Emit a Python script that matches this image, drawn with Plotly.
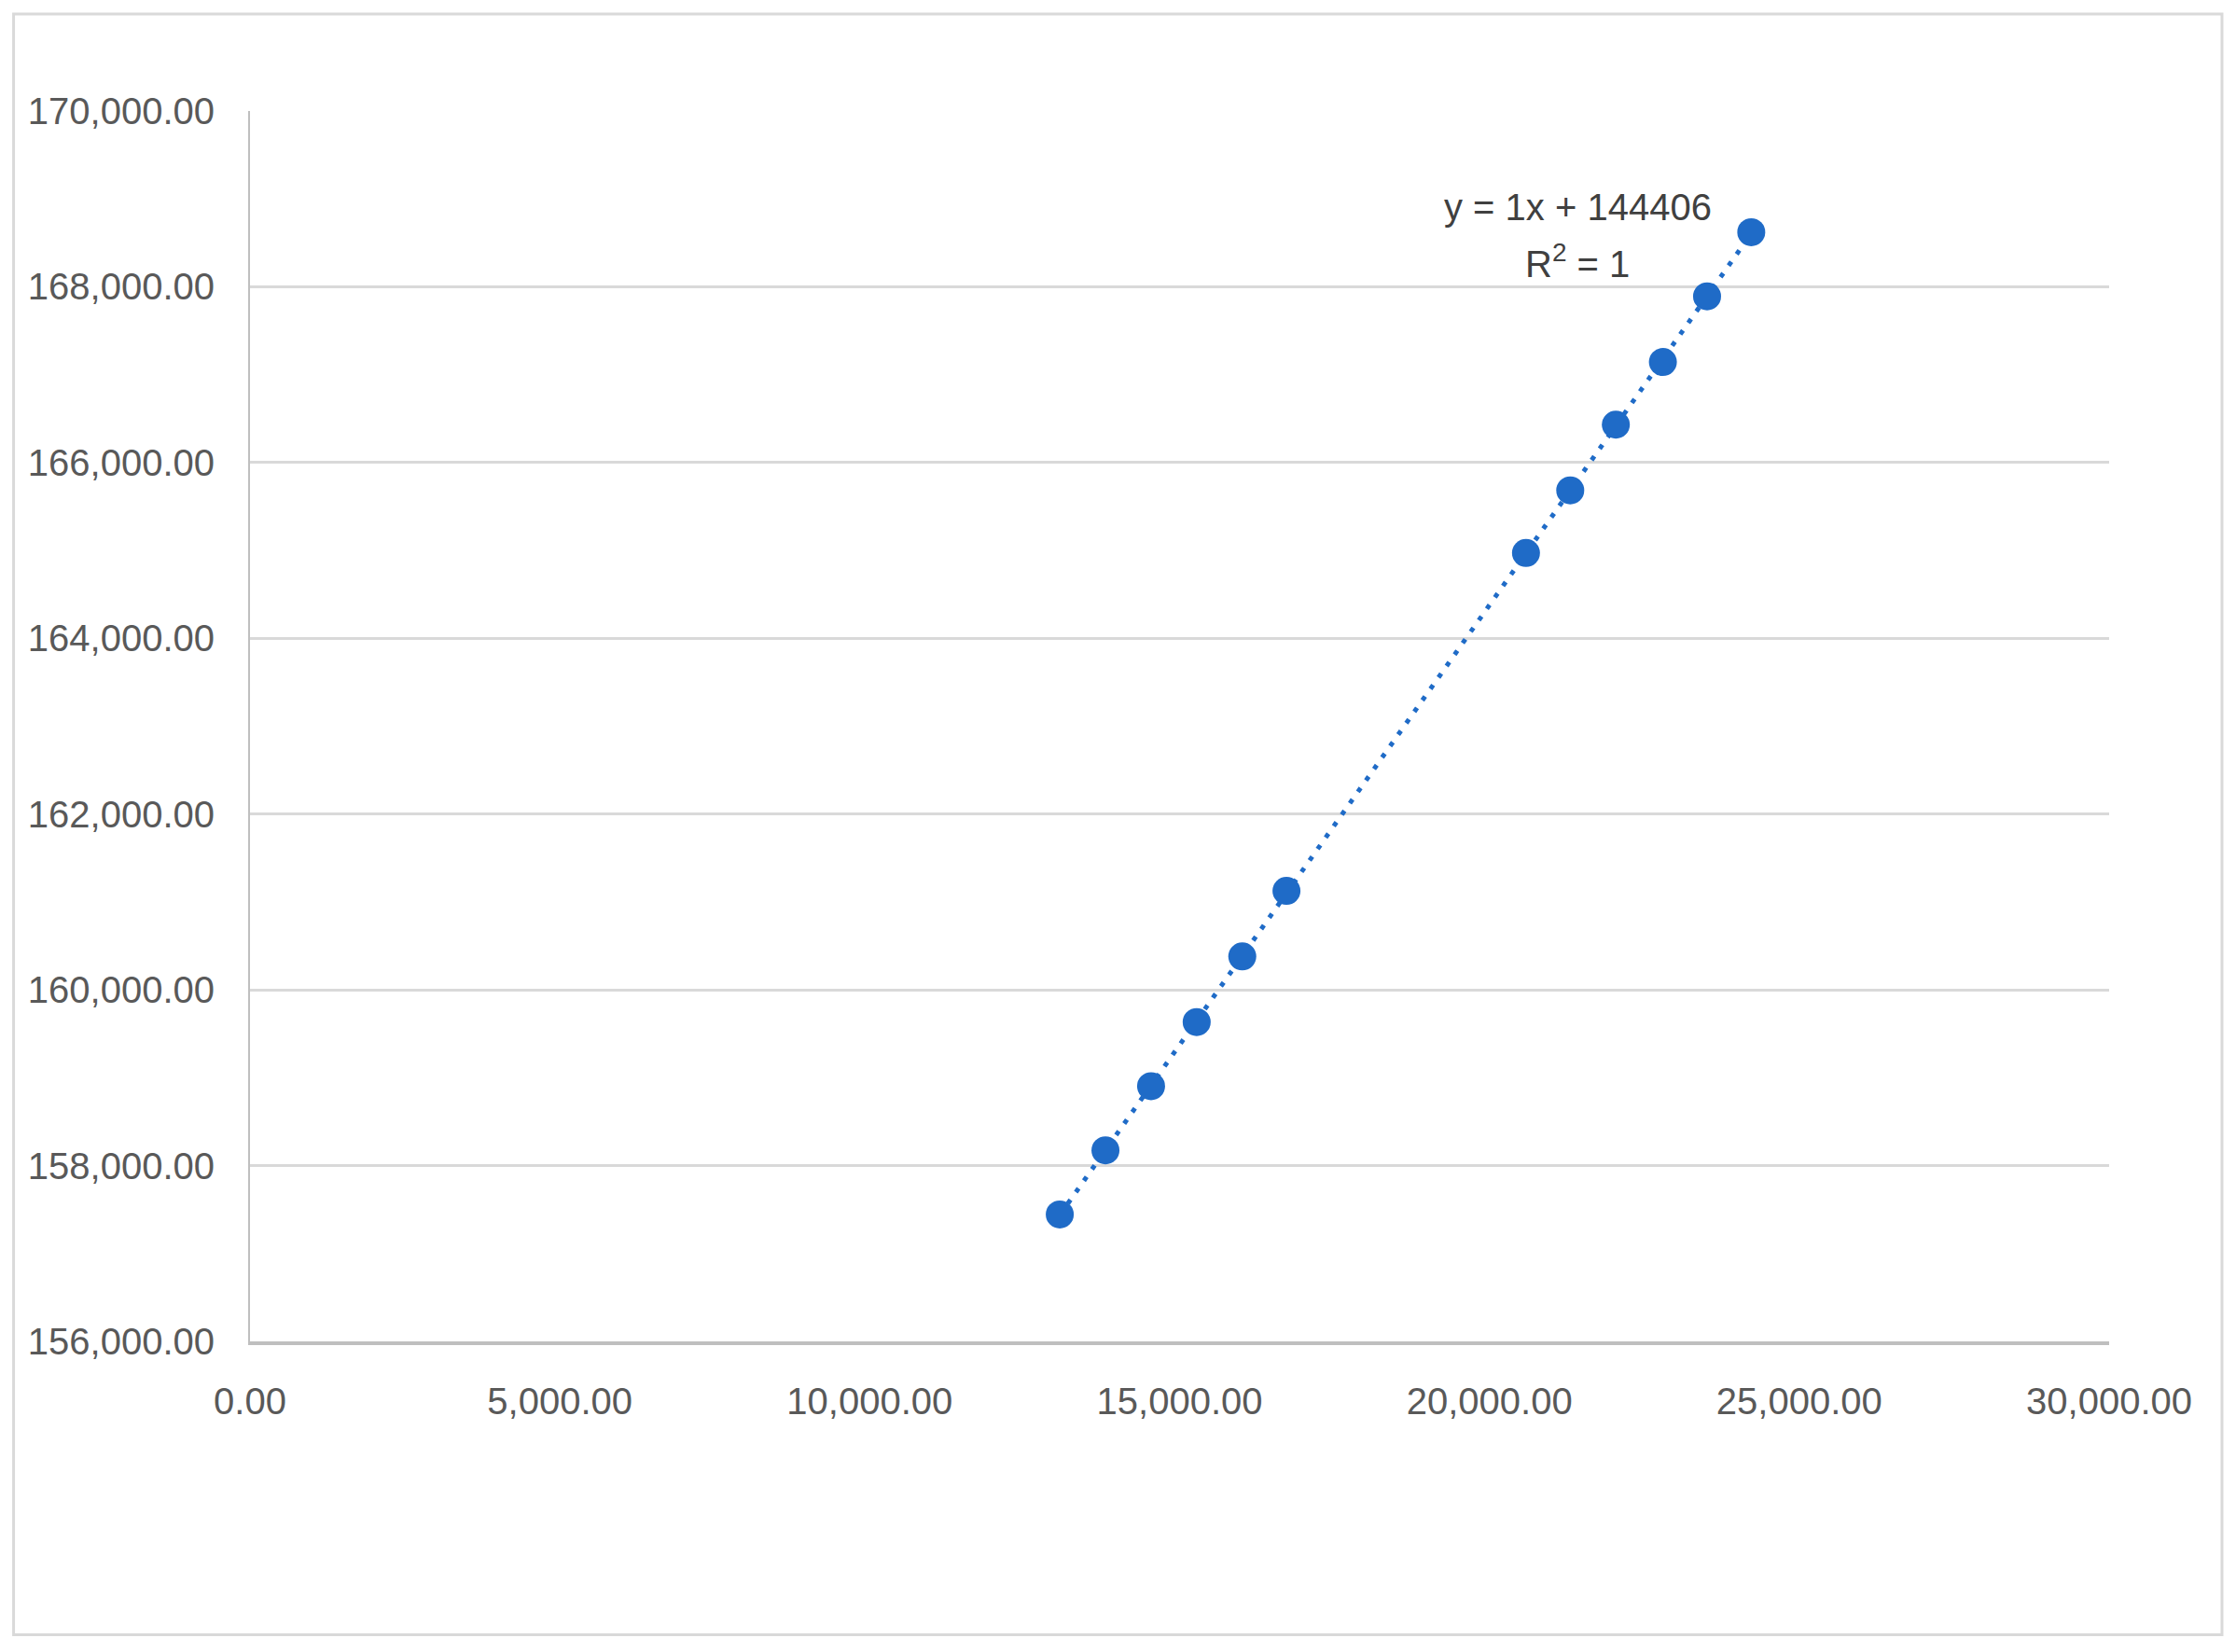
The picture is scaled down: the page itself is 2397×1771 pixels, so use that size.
import numpy as np
import plotly.graph_objects as go

# Data
x_vals = [13067, 13804, 14540, 15276, 16012, 16725, 20590, 21304, 22040, 22799, 23512, 24225]
y_vals = [157444, 158174, 158904, 159634, 160380, 161126, 164971, 165684, 166431, 167144, 167891, 168621]

x_ticks = [0, 5000, 10000, 15000, 20000, 25000, 30000]
y_ticks = [156000, 158000, 160000, 162000, 164000, 166000, 168000, 170000]

eq_text = "y = 1x + 144406"
r2_text = "R<sup>2</sup> = 1"

W, H = 2397, 1771
OFF = 8  # page body margin
L, R, T, B = 267.5 - OFF, 2261 - OFF, 119 - OFF, 1438.5 - OFF

blue = "#1f6bc7"
grid = "#d9d9d9"
txt = "#595959"
font = "Liberation Sans, Arial, sans-serif"

# linear trendline from data
coef = np.polyfit(x_vals, y_vals, 1)
tx = np.array([min(x_vals), max(x_vals)])
ty = np.polyval(coef, tx)

fig = go.Figure()
fig.add_trace(go.Scatter(x=tx, y=ty, mode="lines",
                         line=dict(color=blue, width=5, dash="5px,10px"),
                         hoverinfo="skip", showlegend=False))
fig.add_trace(go.Scatter(x=x_vals, y=y_vals, mode="markers",
                         marker=dict(color=blue, size=30),
                         showlegend=False))

pw = R - L
ph = B - T
def px(p):
    return (p - OFF - L) / pw
def py(p):
    return (B - (p - OFF)) / ph

fig.update_layout(
    width=W, height=H,
    margin=dict(l=L, r=W - R, t=T, b=H - B, pad=0),
    paper_bgcolor="white", plot_bgcolor="white",
    font=dict(family=font, size=40, color=txt),
    xaxis=dict(range=[0, 30000], tickvals=x_ticks, tickformat=",.2f",
               showgrid=False, zeroline=False,
               showline=True, linecolor="#bfbfbf", linewidth=4,
               ticks="outside", ticklen=26, tickcolor="rgba(0,0,0,0)",
               tickfont=dict(family=font, size=40, color=txt)),
    yaxis=dict(range=[156000, 170000], tickvals=y_ticks, tickformat=",.2f",
               showgrid=True, gridcolor=grid, gridwidth=3, zeroline=False,
               showline=True, linecolor="#bfbfbf", linewidth=2,
               ticks="outside", ticklen=28, tickcolor="rgba(0,0,0,0)",
               tickfont=dict(family=font, size=40, color=txt)),
    shapes=[dict(type="rect", xref="paper", yref="paper",
                 x0=px(14), x1=px(2382), y0=py(1753), y1=py(15),
                 line=dict(color="#d9d9d9", width=3), fillcolor="rgba(0,0,0,0)",
                 layer="below")],
    annotations=[
        dict(x=21422, y=168907, xref="x", yref="y", text=eq_text, showarrow=False,
             font=dict(family=font, size=40, color="#404040"), xanchor="center", yanchor="middle"),
        dict(x=21422, y=168292, xref="x", yref="y", text=r2_text, showarrow=False,
             font=dict(family=font, size=40, color="#404040"), xanchor="center", yanchor="middle"),
    ],
)

fig.write_html("out.html")
